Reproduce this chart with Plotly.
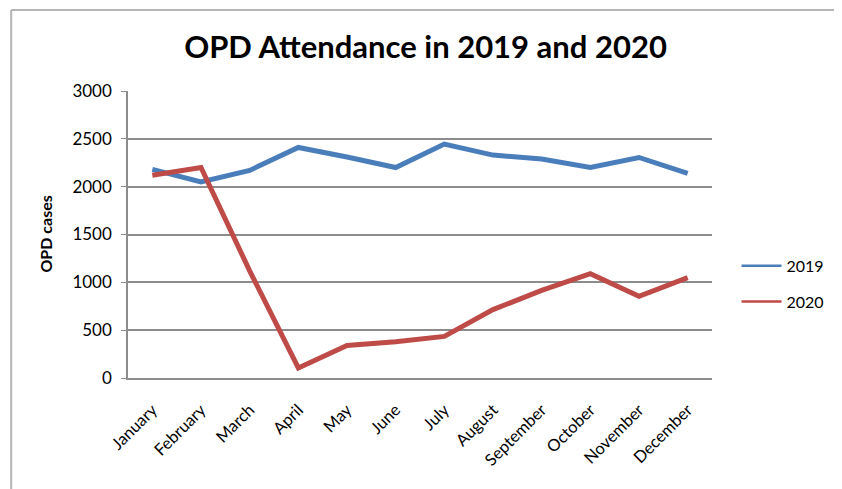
import plotly.graph_objects as go

# data -------------------------------------------------------------------
months = ['January', 'February', 'March', 'April', 'May', 'June', 'July',
          'August', 'September', 'October', 'November', 'December']
cases_2019 = [2180, 2050, 2170, 2410, 2310, 2200, 2445, 2330, 2290, 2200, 2305, 2140]
cases_2020 = [2120, 2200, 1120, 105, 340, 380, 435, 715, 915, 1090, 855, 1050]
y_ticks = [0, 500, 1000, 1500, 2000, 2500, 3000]

FONT = 'Lato'
BLUE = '#4A7EBB'
RED = '#BE4B48'
GRID = '#8c8c8c'

# the page body adds an 8px margin, so the figure is drawn 8px smaller
W, H = 834, 481

fig = go.Figure()
for name, vals, col in [('2019', cases_2019, BLUE), ('2020', cases_2020, RED)]:
    fig.add_trace(go.Scatter(x=months, y=vals, name=name, mode='lines',
                             line=dict(color=col, width=5), showlegend=False))
    # thin legend entry like the original
    fig.add_trace(go.Scatter(x=[months[0]], y=[None], name=name, mode='lines',
                             line=dict(color=col, width=2.5), legendgroup=name))

fig.update_layout(
    width=W, height=H,
    margin=dict(l=120, r=130, t=83, b=111),
    paper_bgcolor='white', plot_bgcolor='white',
    font=dict(family=FONT, color='black', size=16),
    title=dict(text='<b>OPD Attendance in 2019 and 2020</b>',
               font=dict(family=FONT, size=31, color='black'),
               x=0.5006, xref='container', xanchor='center',
               y=1 - 39 / H, yref='container', yanchor='middle'),
    legend=dict(x=1.042, y=0.45, xanchor='left', yanchor='top',
                font=dict(family=FONT, size=16), tracegroupgap=12,
                itemwidth=40, bgcolor='rgba(0,0,0,0)'),
    showlegend=True,
)

fig.update_xaxes(
    type='category', range=[-0.5, 11.5], tickangle=-45,
    showgrid=False, showline=True, linecolor=GRID, linewidth=1.5,
    tickfont=dict(family=FONT, size=16.5), ticks='', ticklabelstandoff=14,
)
fig.update_yaxes(
    range=[0, 3000], tickvals=y_ticks, showgrid=True, gridcolor=GRID, gridwidth=1.5,
    showline=True, linecolor=GRID, linewidth=1.5, ticks='outside', ticklen=5,
    tickcolor=GRID, tickfont=dict(family=FONT, size=17), zeroline=False,
    ticklabelstandoff=6,
)

# y axis title
fig.add_annotation(text='<b>OPD cases</b>', textangle=-90, x=-0.142, y=0.5,
                   xref='paper', yref='paper', xanchor='center', yanchor='middle',
                   showarrow=False, font=dict(family=FONT, size=16))

# chart frame (only top and left edges are visible in the reference)
fig.add_shape(type='line', xref='paper', yref='paper', x0=-0.2, x1=1.25,
              y0=1.282, y1=1.282, line=dict(color='#b5b5b5', width=2))
fig.add_shape(type='line', xref='paper', yref='paper', x0=-0.2, x1=-0.2,
              y0=-0.4, y1=1.282, line=dict(color='#b5b5b5', width=2))

fig.write_html('out.html')
